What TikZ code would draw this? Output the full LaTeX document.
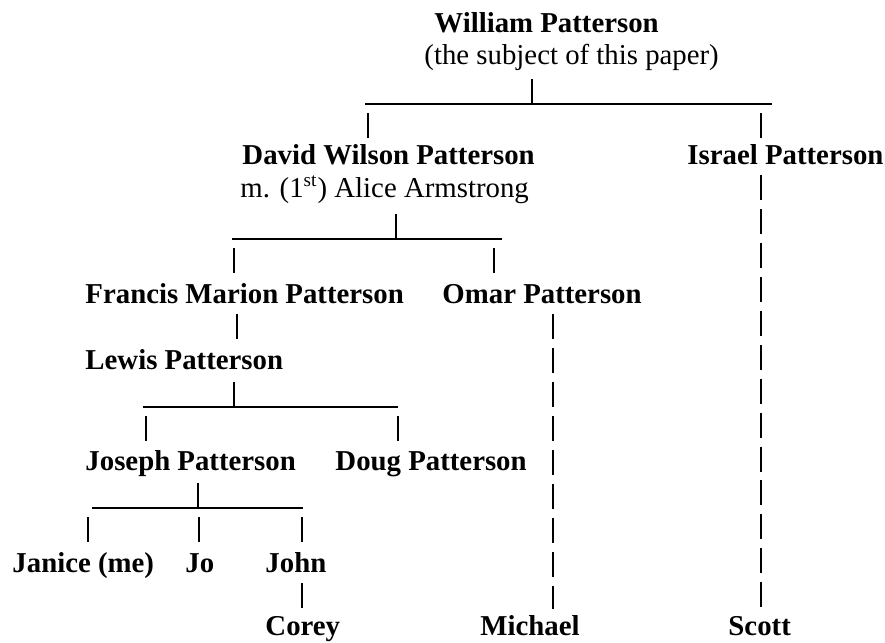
\documentclass[tikz,border=0pt]{standalone}
\usepackage{fontspec}
\setmainfont{Liberation Serif}
\usepackage{tikz}

\begin{document}
\begin{tikzpicture}[x=0.41667pt, y=-0.41667pt, person/.style={anchor=base
      west, inner sep=0pt, text height=10.83pt, text depth=4.58pt,
      font=\fontsize{12pt}{14pt}\selectfont\bfseries},
      remark/.style={anchor=base west, inner sep=0pt,
      font=\fontsize{12pt}{14pt}\selectfont},
      bar/.style={line width=0.45pt}, pipe/.style={line width=0.55pt,
      dash pattern=on 10.42pt off 3.7pt} ]
    \useasboundingbox (0,0) rectangle (885,643);

    % People
    \node[person] (william) at (434,32) {William Patterson}; \node[remark]
    (subject) at (424,64) {(the subject of this paper)};
    \node[person, text depth=0pt] (david) at (242,164) {David Wilson
    Patterson}; \node[remark] (alice) at (240,197) {m.
    (1\textsuperscript{st}) Alice Armstrong}; \node[person] (israel) at
    (687,164) {Israel Patterson}; \node[person] (francis) at (85,303)
    {Francis Marion Patterson}; \node[person] (omar) at (442,303) {Omar
    Patterson}; \node[person] (lewis) at (85,369) {Lewis Patterson};
    \node[person] (joseph) at (85,470) {Joseph Patterson}; \node[person]
    (doug) at (335,470) {Doug Patterson}; \node[person] (janice) at (12,572)
    {Janice (me)}; \node[person] (jo) at (185,572) {Jo}; \node[person] (john)
    at (265,572) {John}; \node[person] (corey) at (265,635) {Corey};
    \node[person] (michael) at (480,635) {Michael}; \node[person] (scott) at
    (728,635) {Scott};

    % Sibling bars
    \coordinate (bar1w) at (365,104); \coordinate (bar1e) at (772,104);
    \coordinate (bar2w) at (232,239); \coordinate (bar2e) at (502,239);
    \coordinate (bar3w) at (143,407); \coordinate (bar3e) at (398,407);
    \coordinate (bar4w) at (92,508); \coordinate (bar4e) at (303,508);
    \draw[bar] (bar1w) -- (bar1e); \draw[bar] (bar2w) -- (bar2e);
    \draw[bar] (bar3w) -- (bar3e); \draw[bar] (bar4w) -- (bar4e);

    % Pipe columns
    \coordinate (kwilliam) at (532,0); \coordinate (kdavid) at (368,0);
    \coordinate (kisrael) at (761,0); \coordinate (kalice) at (396,0);
    \coordinate (kfrancis) at (234,0); \coordinate (komar) at (494,0);
    \coordinate (kmichael) at (553,0); \coordinate (klewis) at (237,0);
    \coordinate (kbar3) at (234,0); \coordinate (kjoseph) at (146,0);
    \coordinate (kdoug) at (398,0); \coordinate (kbar4) at (198,0);
    \coordinate (kjanice) at (88,0); \coordinate (kjo) at (199,0);
    \coordinate (kjohn) at (302,0);

    % Parents down to their bar
    \draw[pipe] (kwilliam |- bar1w) -- ++(0,-25); \draw[pipe] (kalice |-
    bar2w) -- ++(0,-25); \draw[pipe] (kbar3 |- bar3w) -- ++(0,-25);
    \draw[pipe] (kbar4 |- bar4w) -- ++(0,-25);

    % Bars down to the children
    \foreach \k in {kdavid,kisrael} \draw[pipe] (\k |- bar1w) ++(0,9) --
    ++(0,25); \foreach \k in {kfrancis,komar} \draw[pipe] (\k |- bar2w)
    ++(0,9) -- ++(0,25); \foreach \k in {kjoseph,kdoug} \draw[pipe] (\k |-
    bar3w) ++(0,9) -- ++(0,25); \foreach \k in {kjanice,kjo,kjohn}
    \draw[pipe] (\k |- bar4w) ++(0,9) -- ++(0,25);

    % Single lines of descent
    \draw[pipe] (klewis |- francis.south) -- (klewis |- lewis.north);
    \draw[pipe] (kjohn |- john.south) -- (kjohn |- corey.north);
    \draw[pipe] (kmichael |- omar.south) -- (kmichael |- michael.north);
    \draw[pipe] (kisrael |- israel.south) -- (kisrael |- scott.north);

  \end{tikzpicture}
\end{document}
